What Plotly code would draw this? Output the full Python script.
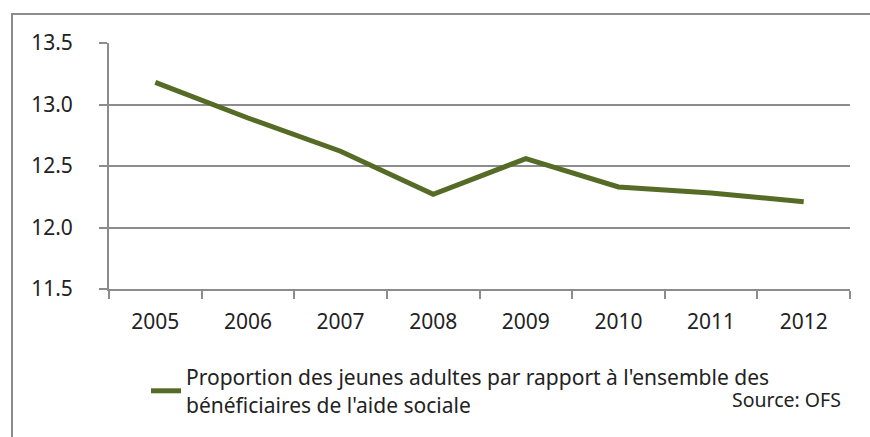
import plotly.graph_objects as go

years = ["2005", "2006", "2007", "2008", "2009", "2010", "2011", "2012"]
values = [13.18, 12.89, 12.62, 12.27, 12.56, 12.33, 12.28, 12.21]
series_name = "Proportion des jeunes adultes par rapport à l'ensemble des<br>bénéficiaires de l'aide sociale"
y_ticks = [11.5, 12.0, 12.5, 13.0, 13.5]

FONT = "Noto Sans"
GRID = "#8c8c8c"

fig = go.Figure()
fig.add_trace(go.Scatter(
    x=years, y=values, mode="lines", name=series_name,
    line=dict(color="#556b26", width=5),
))

L, R, T, B = 109, 20, 43, 148
W, H = 870, 437
pw, ph = W - L - R, H - T - B

fig.update_layout(
    width=W, height=H,
    margin=dict(l=L, r=R, t=T, b=B, autoexpand=False),
    paper_bgcolor="white", plot_bgcolor="white",
    font=dict(family=FONT, size=21, color="#222"),
    showlegend=True,
    legend=dict(
        orientation="h", x=(146 - L) / pw, y=(289 - 357) / ph,
        xanchor="left", yanchor="top", font=dict(size=21, color="#222"),
        bgcolor="rgba(0,0,0,0)", itemwidth=30,
    ),
    xaxis=dict(
        type="category", range=[-0.5, 7.5], showgrid=False, tickson="boundaries",
        ticks="outside", ticklen=8, tickcolor=GRID, tickwidth=2,
        showline=True, linecolor=GRID, linewidth=2,
        tickfont=dict(size=21), ticklabelstandoff=13,
        fixedrange=True, automargin=False,
    ),
    yaxis=dict(
        range=[11.5, 13.5], tickvals=y_ticks, ticktext=[f"{v:.1f}" for v in y_ticks],
        showgrid=True, gridcolor=GRID, gridwidth=2,
        ticks="outside", ticklen=8, tickcolor=GRID, tickwidth=2,
        showline=True, linecolor=GRID, linewidth=2,
        tickfont=dict(size=21), ticklabelstandoff=22,
        zeroline=False, fixedrange=True, automargin=False,
    ),
    annotations=[dict(
        text="Source: OFS", xref="paper", yref="paper",
        x=(843 - L) / pw, y=(289 - 399) / ph, xanchor="right", yanchor="middle",
        showarrow=False, font=dict(size=19.5, color="#222"),
    )],
    shapes=[dict(
        type="rect", xref="paper", yref="paper",
        x0=(12 - L) / pw, x1=1.2, y0=-1.0, y1=1 + (T - 14) / ph,
        line=dict(color=GRID, width=2), fillcolor="rgba(0,0,0,0)", layer="below",
    )],
)

fig.write_html(
    "out.html",
    config={"displayModeBar": False, "staticPlot": True},
    post_script="document.body.style.margin='0px';document.body.style.overflow='hidden';",
)
